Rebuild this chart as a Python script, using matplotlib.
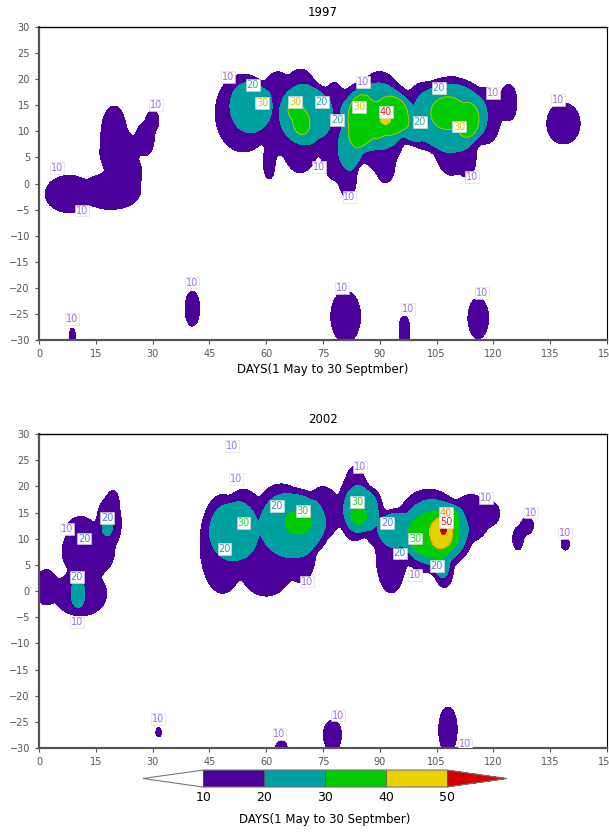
import numpy as np
import matplotlib
matplotlib.use("Agg")
import matplotlib.pyplot as plt
from matplotlib.colors import ListedColormap, BoundaryNorm
from matplotlib.cm import ScalarMappable

# contour levels and shading (GrADS style)
levels = [10, 20, 30, 40, 50]
fill_colors = ["#4b009b", "#00a0a0", "#00cc00", "#e6d200"]
over_color = "#d20000"

# field cells: (day, lat, half-width in days, half-width in deg)
# 1997
cells97_10 = [
    # west blob
    (8, -2, 6.5, 3.6), (19, -1.5, 8, 3.5), (19.8, 9, 3.5, 6), (21, 6, 5, 4.5),
    (23.5, 2, 3.8, 3.5), (28, 8.5, 2.5, 3.3), (30, 12, 1.8, 2.3),
    # main band
    (54, 13.5, 7.5, 7.5), (63, 13.5, 5, 8), (60.8, 4, 1.6, 3.5), (69, 12, 6, 10),
    (78, 10, 4, 9.5), (81.5, 2, 2.5, 5), (90, 12, 7, 9.5), (91.5, 3, 2.5, 3),
    (102, 13, 6, 6.5), (109, 11, 5.5, 9.5), (113, 5, 2.5, 4), (118, 13, 4, 5.5),
    (124, 15.5, 2.3, 3.7),
    (138.5, 11.5, 4.5, 4),
    # southern hemisphere
    (8.8, -29, 0.9, 2), (40.5, -24, 2, 3.6), (81, -25.5, 4, 5),
    (96.5, -28, 1.5, 3), (116, -25.8, 2.8, 4),
]
cells97_20 = [
    (56, 14.8, 5, 4.5), (70.5, 13.3, 6.5, 5.3), (89, 13, 9, 6), (82.5, 7, 2.8, 4),
    (99, 10.5, 3, 2.5), (108.5, 12.8, 9.5, 6.3),
]
cells97_30 = [
    (67.5, 14.5, 1.4, 1.6), (69.3, 11.5, 1.5, 2),
    (85, 12, 3.3, 5), (93.5, 13, 4, 3.5), (89, 12, 3, 3),
    (108, 13.5, 4, 2.4), (113.5, 12, 2.5, 3),
]
cells97_40 = [(91.5, 12.5, 0.8, 0.8)]

# 2002
cells02_10 = [
    # west blob
    (2, 0.7, 3, 3.5), (11, -0.5, 7, 4.3), (13, 7.5, 7, 5), (11, 11.5, 4, 2.8),
    (18.5, 13, 3.3, 5), (19.5, 16.5, 1.8, 3),
    # main band
    (48.5, 9, 6, 9.5), (54, 13, 5.5, 6.5), (60, 7, 8, 8), (64, 14, 7, 6.5),
    (69, 7, 4, 5.5), (75, 15, 4.5, 5), (83.5, 16, 4.5, 6.5), (83.5, 21.5, 2.3, 2.5),
    (88.5, 14, 2.5, 5.5), (93, 7, 4, 7.5), (103, 11.5, 9, 8), (107, 4, 2.5, 3.5),
    (114, 14, 5, 4.5), (119, 14.8, 2.8, 2.5), (51, 25.6, 0.8, 0.8),
    (129, 12.5, 1.8, 1.8), (126.5, 10, 1.5, 2.5), (139, 9, 1.3, 1.5),
    # southern hemisphere
    (31.6, -27, 1, 1.4), (64, -29.5, 1.8, 1), (77.5, -27.5, 2.5, 3),
    (108, -26.5, 2.5, 4.5),
]
cells02_20 = [
    (10.3, -0.5, 0.9, 2.5), (18, 12.3, 0.7, 1.3),
    (51.5, 11.5, 6, 5.2), (67, 12.7, 8.3, 5.8), (85, 15.5, 4.2, 4.2),
    (94, 12, 4, 3), (104.5, 11.2, 8.5, 6), (106, 5, 2, 2),
]
cells02_30 = [(68.5, 13.1, 3, 1.4), (84.2, 14.2, 1.8, 1), (104, 10.5, 6.5, 4), (108, 13.5, 3, 2.5)]
cells02_40 = [(106.5, 11.3, 2.6, 3)]
cells02_50 = [(107, 11.6, 0.9, 0.35)]

# contour labels (day, lat, text)
labels97 = [
    (4.7, 3, "10"), (31, 15, "10"), (11.3, -5.2, "10"),
    (50, 20.4, "10"), (56.5, 18.9, "20"), (59, 15.4, "30"), (67.6, 15.6, "30"),
    (74.7, 15.6, "20"), (85.5, 19.5, "10"), (78.7, 12.2, "20"), (84.5, 14.7, "30"),
    (91.6, 13.7, "40"), (105.6, 18.3, "20"), (120, 17.3, "10"), (100.6, 11.8, "20"),
    (111, 10.9, "30"), (74, 3.2, "10"), (82, -2.6, "10"), (114.3, 1.2, "10"),
    (137, 16, "10"),
    (8.7, -26, "10"), (40.5, -19, "10"), (80, -20, "10"), (97.5, -24, "10"),
    (117, -21, "10"),
]
labels02 = [
    (7.3, 11.8, "10"), (12, 10, "20"), (18, 14, "20"), (10, 2.7, "20"), (10, -6, "10"),
    (51, 27.7, "10"), (52, 21.4, "10"), (62.8, 16.2, "20"), (69.7, 15.3, "30"),
    (54, 13, "30"), (49, 8, "20"), (70.7, 1.8, "10"), (84.8, 23.7, "10"),
    (84, 17, "30"), (92, 13, "20"), (99.3, 10, "30"), (95.3, 7.2, "20"),
    (107.5, 15, "40"), (107.5, 13.2, "50"), (105, 4.8, "20"), (99.3, 3.1, "10"),
    (118, 17.8, "10"), (130, 15, "10"), (139, 11, "10"),
    (31.5, -24.5, "10"), (63.5, -27.3, "10"), (79, -23.8, "10"), (112.5, -29.3, "10"),
]
label_colors97 = {"10": "#a070e0", "20": "#30a8b8", "30": "#e0c000", "40": "#e02020"}
label_colors02 = {"10": "#a070e0", "20": "#4a80e8", "30": "#33cc33", "40": "#ff8000", "50": "#dd2020"}

days = np.linspace(0, 150, 601)
lats = np.linspace(-30, 30, 241)
D, L = np.meshgrid(days, lats)


def smooth(f, s=3):
    k = np.exp(-0.5 * (np.arange(-3 * s, 3 * s + 1) / s) ** 2)
    k /= k.sum()
    n = 3 * s
    g = np.pad(f, n, mode="edge")
    g = np.apply_along_axis(lambda v: np.convolve(v, k, mode="same"), 0, g)
    g = np.apply_along_axis(lambda v: np.convolve(v, k, mode="same"), 1, g)
    return g[n:-n, n:-n]


def build_field(groups):
    f = np.zeros_like(D)
    for lev, cells in groups:
        for d0, l0, a, b in cells:
            r = np.sqrt(((D - d0) / a) ** 2 + ((L - l0) / b) ** 2)
            f = np.maximum(f, lev + np.minimum(50 * (1 - r), 9))
    return smooth(f)


field97 = build_field([(10, cells97_10), (20, cells97_20), (30, cells97_30), (40, cells97_40)])
field02 = build_field([(10, cells02_10), (20, cells02_20), (30, cells02_30),
                       (40, cells02_40), (50, cells02_50)])

cmap = ListedColormap(fill_colors)
cmap.set_under("white")
cmap.set_over(over_color)
norm = BoundaryNorm(levels, cmap.N)

fig = plt.figure(figsize=(6.09, 8.33), dpi=100)
ax1 = fig.add_axes([0.064, 0.5918, 0.9327, 0.3758])
ax2 = fig.add_axes([0.064, 0.102, 0.9327, 0.377])


def draw_panel(ax, field, labels, lab_colors, title, line_level, line_color):
    ax.contourf(D, L, field, levels=levels, cmap=cmap, norm=norm, extend="max")
    ax.contour(D, L, field, levels=[line_level], colors=[line_color], linewidths=0.6)
    for d0, l0, txt in labels:
        ax.text(d0, l0, txt, color=lab_colors[txt], fontsize=7, ha="center", va="center",
                bbox=dict(boxstyle="square,pad=0.08", fc="white", ec="#d8d8d8", lw=0.4),
                clip_on=True)
    ax.set_xlim(0, 150)
    ax.set_ylim(-30, 30)
    ax.set_xticks(np.arange(0, 151, 15))
    ax.set_yticks(np.arange(-30, 31, 5))
    ax.tick_params(labelsize=7, colors="#555555", length=3, width=0.8)
    ax.set_title(title, fontsize=8.5, pad=8)
    for side in ["left", "bottom"]:
        ax.spines[side].set_linewidth(1.6)
        ax.spines[side].set_color("#555555")
    ax.spines["top"].set_linewidth(1.0)
    ax.spines["right"].set_linewidth(0.8)


draw_panel(ax1, field97, labels97, label_colors97, "1997", 30, "#c8c800")
draw_panel(ax2, field02, labels02, label_colors02, "2002", 40, "#ff9000")
ax1.set_xlabel("DAYS(1 May to 30 Septmber)", fontsize=8.5, labelpad=3)

cax = fig.add_axes([0.2348, 0.0552, 0.5977, 0.0204])
cb = fig.colorbar(ScalarMappable(norm=norm, cmap=cmap), cax=cax, orientation="horizontal",
                  extend="both", extendfrac=0.247, ticks=levels, drawedges=True)
cb.outline.set_edgecolor("#777777")
cb.outline.set_linewidth(0.8)
cb.dividers.set_color("#555555")
cb.dividers.set_linewidth(0.6)
cax.tick_params(length=0, labelsize=9, pad=3)
cax.set_xlabel("DAYS(1 May to 30 Septmber)", fontsize=8.5, labelpad=6)

fig.savefig("out.png", dpi=100)
